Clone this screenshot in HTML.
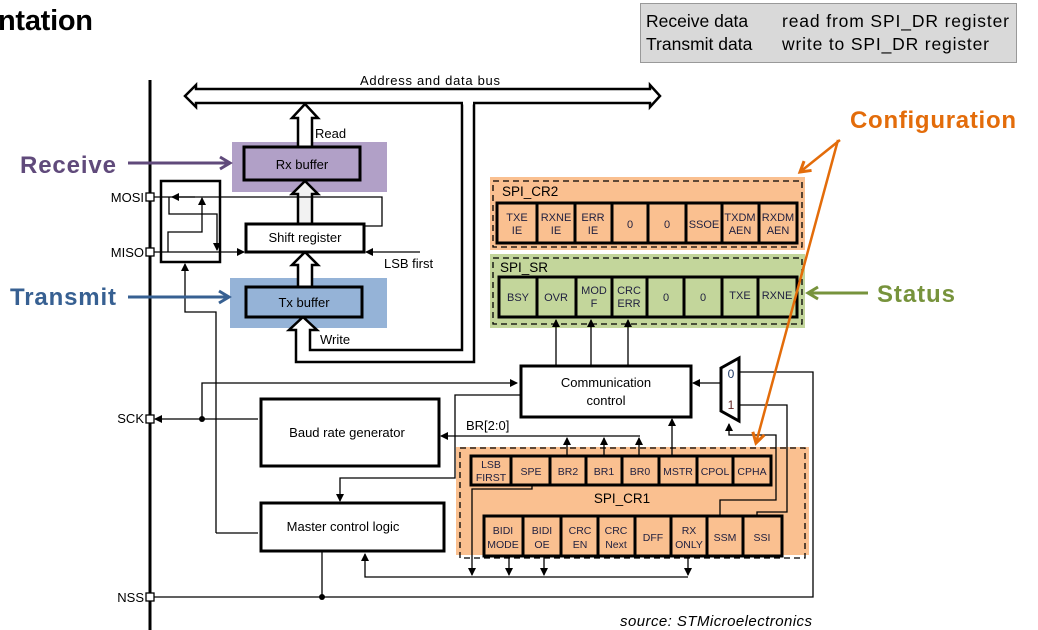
<!DOCTYPE html>
<html><head><meta charset="utf-8"><style>
body{margin:0;background:#fff;}
svg{display:block;font-family:"Liberation Sans",Arial,sans-serif;}
</style></head><body>
<svg width="1038" height="630" viewBox="0 0 1038 630" xmlns="http://www.w3.org/2000/svg">
<defs>
<marker id="a" markerWidth="8" markerHeight="8" refX="7" refY="4" orient="auto" markerUnits="userSpaceOnUse"><path d="M0,0 L8,4 L0,8 Z" fill="#000"/></marker>
<marker id="or" markerWidth="16" markerHeight="16" refX="12" refY="8" orient="auto" markerUnits="userSpaceOnUse"><path d="M2,2 L12,8 L2,14" fill="none" stroke="#e36c0a" stroke-width="3"/></marker>
<marker id="gr" markerWidth="16" markerHeight="16" refX="12" refY="8" orient="auto" markerUnits="userSpaceOnUse"><path d="M2,2 L12,8 L2,14" fill="none" stroke="#77933c" stroke-width="3"/></marker>
<marker id="pu" markerWidth="16" markerHeight="16" refX="12" refY="8" orient="auto" markerUnits="userSpaceOnUse"><path d="M2,2 L12,8 L2,14" fill="none" stroke="#604a7b" stroke-width="3"/></marker>
<marker id="bl" markerWidth="16" markerHeight="16" refX="12" refY="8" orient="auto" markerUnits="userSpaceOnUse"><path d="M2,2 L12,8 L2,14" fill="none" stroke="#376092" stroke-width="3"/></marker>
</defs>

<text x="-2" y="30" font-size="29" font-weight="bold" textLength="95">ntation</text>
<rect x="640.5" y="3.5" width="376" height="59" fill="#d9d9d9" stroke="#999"/>
<text x="646" y="27" font-size="17.5">Receive data</text>
<text x="782" y="27" font-size="17.5" textLength="227">read from SPI_DR register</text>
<text x="646" y="50" font-size="17.5">Transmit data</text>
<text x="782" y="50" font-size="17.5" textLength="207">write to SPI_DR register</text>

<rect x="232" y="142" width="155" height="50" fill="#b1a0c7"/>
<rect x="230" y="278" width="157" height="50" fill="#95b3d7"/>
<rect x="490" y="177" width="315" height="73" fill="#fac090"/>
<rect x="490" y="254" width="315" height="74" fill="#c3d69b"/>
<rect x="456" y="447" width="353" height="108" fill="#fac090"/>

<line x1="150" y1="80" x2="150" y2="630" stroke="#000" stroke-width="3"/>

<path d="M185,96 L196,85 L196,89 L650,89 L650,85 L660,96 L650,107 L650,103 L196,103 L196,107 Z" fill="#fff" stroke="#000" stroke-width="2.5"/>
<text x="360" y="85" font-size="13" textLength="140">Address and data bus</text>
<path d="M462,103 L462,350 L310,350 L310,330 L317,330 L303,317 L289,330 L296,330 L296,362 L474,362 L474,103" fill="#fff" stroke="#000" stroke-width="2.5"/>
<line x1="463" y1="103" x2="473" y2="103" stroke="#fff" stroke-width="3"/>
<path d="M298,147 L298,118 L292,118 L305,104 L318,118 L312,118 L312,147" fill="#fff" stroke="#000" stroke-width="2.5"/>
<text x="315" y="138" font-size="13">Read</text>
<text x="320" y="344" font-size="13">Write</text>
<path d="M298,224 L298,194 L292,194 L305,181 L318,194 L312,194 L312,224" fill="#f2f2f2" stroke="#000" stroke-width="2.5"/>
<path d="M298,287 L298,265 L292,265 L305,252 L318,265 L312,265 L312,287" fill="#fff" stroke="#000" stroke-width="2.5"/>

<rect x="244" y="147" width="116" height="33" fill="#b1a0c7" stroke="#000" stroke-width="3"/>
<text x="302" y="169" font-size="13" text-anchor="middle">Rx buffer</text>
<rect x="246" y="224" width="118" height="28" fill="#fff" stroke="#000" stroke-width="3"/>
<text x="305" y="242" font-size="13" text-anchor="middle">Shift register</text>
<rect x="246" y="287" width="116" height="30" fill="#95b3d7" stroke="#000" stroke-width="3"/>
<text x="304" y="307" font-size="13" text-anchor="middle">Tx buffer</text>

<rect x="161" y="181" width="59" height="81" fill="none" stroke="#000" stroke-width="2.5"/>
<g stroke="#000" stroke-width="1.3" fill="none">
<line x1="154" y1="197" x2="380" y2="197"/>
<path d="M380,197 L382,197 L382,226 L364,226"/>
<line x1="154" y1="252" x2="244" y2="252" marker-end="url(#a)"/>
<line x1="420" y1="252" x2="366" y2="252" marker-end="url(#a)"/>
<path d="M168,252 L168,232 L202,232 L202,198" marker-end="url(#a)"/>
<path d="M169,197 L169,214 L217,214 L217,250" marker-end="url(#a)"/>
<path d="M216,533 L216,312 L185,312 L185,264" marker-end="url(#a)"/>
<path d="M202,418 L202,383 L517,383" marker-end="url(#a)"/>
<line x1="258" y1="419" x2="155" y2="419" marker-end="url(#a)"/>
<path d="M258,533 L216,533"/>
</g>
<path d="M195,197 L172,197" stroke="#000" stroke-width="1.3" marker-end="url(#a)"/>
<circle cx="202" cy="419" r="3" fill="#000"/>
<text x="384" y="268" font-size="13">LSB first</text>

<g fill="#fff" stroke="#000" stroke-width="1.3">
<rect x="146" y="193" width="8" height="8"/><rect x="146" y="248" width="8" height="8"/>
<rect x="146" y="415" width="8" height="8"/><rect x="146" y="593" width="8" height="8"/>
</g>
<g font-size="13" text-anchor="end">
<text x="144" y="202">MOSI</text><text x="144" y="257">MISO</text>
<text x="144" y="423">SCK</text><text x="144" y="602">NSS</text>
</g>

<rect x="493" y="181" width="309" height="66" fill="none" stroke="#000" stroke-width="1.3" stroke-dasharray="6,4"/>
<text x="502" y="196" font-size="13.5">SPI_CR2</text>
<rect x="497" y="203" width="300" height="40" fill="#fac090" stroke="#000" stroke-width="3"/>
<g stroke="#000" stroke-width="3"><line x1="537" y1="203" x2="537" y2="243"/><line x1="575" y1="203" x2="575" y2="243"/><line x1="612" y1="203" x2="612" y2="243"/><line x1="648" y1="203" x2="648" y2="243"/><line x1="686" y1="203" x2="686" y2="243"/><line x1="722" y1="203" x2="722" y2="243"/><line x1="759" y1="203" x2="759" y2="243"/></g>
<g font-size="11" text-anchor="middle" fill="#1f1f3f">
<text x="517" y="221">TXE</text><text x="517" y="234">IE</text>
<text x="556" y="221">RXNE</text><text x="556" y="234">IE</text>
<text x="593" y="221">ERR</text><text x="593" y="234">IE</text>
<text x="630" y="228">0</text><text x="667" y="228">0</text>
<text x="704" y="228">SSOE</text>
<text x="740" y="221">TXDM</text><text x="740" y="234">AEN</text>
<text x="778" y="221">RXDM</text><text x="778" y="234">AEN</text>
</g>

<rect x="493" y="258" width="309" height="66" fill="none" stroke="#000" stroke-width="1.3" stroke-dasharray="6,4"/>
<text x="500" y="272" font-size="13.5">SPI_SR</text>
<rect x="499" y="277" width="298" height="40" fill="#c3d69b" stroke="#000" stroke-width="3"/>
<g stroke="#000" stroke-width="3"><line x1="537" y1="277" x2="537" y2="317"/><line x1="576" y1="277" x2="576" y2="317"/><line x1="612" y1="277" x2="612" y2="317"/><line x1="647" y1="277" x2="647" y2="317"/><line x1="684" y1="277" x2="684" y2="317"/><line x1="722" y1="277" x2="722" y2="317"/><line x1="758" y1="277" x2="758" y2="317"/></g>
<g font-size="11" text-anchor="middle" fill="#1f1f3f">
<text x="518" y="301">BSY</text><text x="556" y="301">OVR</text>
<text x="594" y="294">MOD</text><text x="594" y="307">F</text>
<text x="629" y="294">CRC</text><text x="629" y="307">ERR</text>
<text x="666" y="301">0</text><text x="703" y="301">0</text>
<text x="740" y="299">TXE</text><text x="777" y="299">RXNE</text>
</g>

<rect x="521" y="366" width="170" height="51" fill="#fff" stroke="#000" stroke-width="3"/>
<text x="606" y="387" font-size="13" text-anchor="middle">Communication</text>
<text x="606" y="405" font-size="13" text-anchor="middle">control</text>
<g stroke="#000" stroke-width="1.3">
<line x1="556" y1="366" x2="556" y2="320" marker-end="url(#a)"/>
<line x1="591" y1="366" x2="591" y2="320" marker-end="url(#a)"/>
<line x1="628" y1="366" x2="628" y2="320" marker-end="url(#a)"/>
</g>

<rect x="261" y="399" width="178" height="67" fill="#fff" stroke="#000" stroke-width="3"/>
<text x="347" y="437" font-size="13" text-anchor="middle">Baud rate generator</text>
<rect x="261" y="503" width="183" height="48" fill="#fff" stroke="#000" stroke-width="3"/>
<text x="343" y="531" font-size="13" text-anchor="middle">Master control logic</text>

<rect x="460" y="448" width="345" height="110" fill="none" stroke="#000" stroke-width="1.3" stroke-dasharray="6,4"/>
<rect x="471" y="456" width="300" height="29" fill="#fac090" stroke="#000" stroke-width="3"/>
<g stroke="#000" stroke-width="3"><line x1="511" y1="456" x2="511" y2="485"/><line x1="550" y1="456" x2="550" y2="485"/><line x1="586" y1="456" x2="586" y2="485"/><line x1="622" y1="456" x2="622" y2="485"/><line x1="659" y1="456" x2="659" y2="485"/><line x1="697" y1="456" x2="697" y2="485"/><line x1="733" y1="456" x2="733" y2="485"/></g>
<g font-size="10.5" text-anchor="middle" fill="#1f1f3f">
<text x="491" y="468">LSB</text><text x="491" y="481">FIRST</text>
<text x="531" y="475">SPE</text><text x="568" y="475">BR2</text><text x="604" y="475">BR1</text>
<text x="640" y="475">BR0</text><text x="678" y="475">MSTR</text><text x="715" y="475">CPOL</text><text x="752" y="475">CPHA</text>
</g>
<text x="622" y="503" font-size="13.5" text-anchor="middle">SPI_CR1</text>
<rect x="484" y="516" width="298" height="40" fill="#fac090" stroke="#000" stroke-width="3"/>
<g stroke="#000" stroke-width="3"><line x1="523" y1="516" x2="523" y2="556"/><line x1="561" y1="516" x2="561" y2="556"/><line x1="598" y1="516" x2="598" y2="556"/><line x1="635" y1="516" x2="635" y2="556"/><line x1="671" y1="516" x2="671" y2="556"/><line x1="707" y1="516" x2="707" y2="556"/><line x1="743" y1="516" x2="743" y2="556"/></g>
<g font-size="10.5" text-anchor="middle" fill="#1f1f3f">
<text x="503" y="534">BIDI</text><text x="503" y="548">MODE</text>
<text x="542" y="534">BIDI</text><text x="542" y="548">OE</text>
<text x="580" y="534">CRC</text><text x="580" y="548">EN</text>
<text x="616" y="534">CRC</text><text x="616" y="548">Next</text>
<text x="653" y="541">DFF</text>
<text x="689" y="534">RX</text><text x="689" y="548">ONLY</text>
<text x="725" y="541">SSM</text><text x="762" y="541">SSI</text>
</g>

<g stroke="#000" stroke-width="1.3" fill="none">
<path d="M640,436 L441,436" marker-end="url(#a)"/>
<line x1="567" y1="456" x2="567" y2="438" marker-end="url(#a)"/>
<line x1="604" y1="456" x2="604" y2="438" marker-end="url(#a)"/>
<line x1="639" y1="456" x2="639" y2="438" marker-end="url(#a)"/>
<line x1="672" y1="456" x2="672" y2="419" marker-end="url(#a)"/>
<path d="M521,395 L455,395 L455,478 L340,478 L340,501" marker-end="url(#a)"/>
<path d="M532,485 L532,489 L472,489 L472,575" marker-end="url(#a)"/>
<line x1="509" y1="556" x2="509" y2="575" marker-end="url(#a)"/>
<line x1="544" y1="556" x2="544" y2="575" marker-end="url(#a)"/>
<line x1="688" y1="556" x2="688" y2="575" marker-end="url(#a)"/>
<path d="M688,577 L365,577 L365,554" marker-end="url(#a)"/>
<line x1="322" y1="551" x2="322" y2="597"/>
<path d="M154,597 L813,597 L813,372 L740,372"/>
<path d="M739,405 L787,405 L787,512 L757,512 L757,516"/>
<path d="M720,516 L720,500 L776,500 L776,435 L729,435 L729,424" marker-end="url(#a)"/>
<path d="M721,383 L693,383" marker-end="url(#a)"/>
</g>
<circle cx="322" cy="597" r="3" fill="#000"/>
<text x="466" y="430" font-size="13">BR[2:0]</text>
<path d="M721,368 L739,358 L739,421 L721,411 Z" fill="#fff" stroke="#000" stroke-width="3"/>
<text x="731" y="378" font-size="12" text-anchor="middle" fill="#1f3864">0</text>
<text x="731" y="409" font-size="12" text-anchor="middle" fill="#632523">1</text>

<text x="850" y="128" font-size="24" font-weight="bold" fill="#e36c0a" textLength="166">Configuration</text>
<line x1="840" y1="140" x2="800" y2="172" stroke="#e36c0a" stroke-width="2.5" marker-end="url(#or)"/>
<line x1="838" y1="140" x2="756" y2="443" stroke="#e36c0a" stroke-width="2.5" marker-end="url(#or)"/>
<text x="877" y="302" font-size="24" font-weight="bold" fill="#77933c" textLength="78">Status</text>
<line x1="868" y1="293" x2="808" y2="293" stroke="#77933c" stroke-width="3" marker-end="url(#gr)"/>
<text x="20" y="173" font-size="24" font-weight="bold" fill="#604a7b" textLength="96">Receive</text>
<line x1="128" y1="163" x2="230" y2="163" stroke="#604a7b" stroke-width="3" marker-end="url(#pu)"/>
<text x="10" y="305" font-size="24" font-weight="bold" fill="#376092" textLength="106">Transmit</text>
<line x1="128" y1="297" x2="229" y2="297" stroke="#376092" stroke-width="3" marker-end="url(#bl)"/>

<text x="620" y="626" font-size="15" font-style="italic" textLength="192">source: STMicroelectronics</text>
</svg>
</body></html>
